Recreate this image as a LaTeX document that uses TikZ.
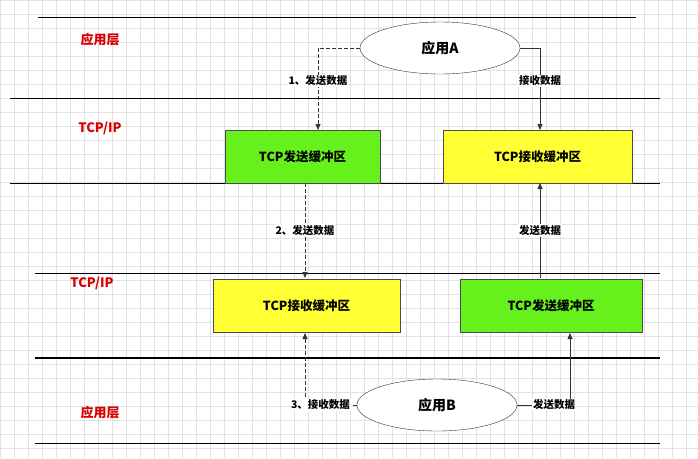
\documentclass[tikz,border=0pt]{standalone}
\usepackage{fontspec}
\setmainfont{Noto Sans CJK SC}
\usetikzlibrary{shapes.geometric,arrows.meta}
\definecolor{gridc}{RGB}{225,225,225}
\definecolor{gbox}{RGB}{102,240,28}
\definecolor{ybox}{RGB}{255,255,51}
\tikzset{x=1pt,y=-1pt,
 layer/.style={line width=1pt},
 buf/.style={draw=black!70,minimum height=53pt,font=\bfseries\fontsize{12.5}{14}\selectfont},
 app/.style={draw=black!80,ellipse,minimum width=160pt,minimum height=52pt,fill=white,font=\bfseries\fontsize{14}{16}\selectfont},
 lab/.style={text=red!85!black,font=\bfseries\fontsize{13}{15}\selectfont},
 conn/.style={draw=black!80,line width=0.8pt,-{Triangle[length=6pt,width=5pt]}},
 dconn/.style={conn,dash pattern=on 4pt off 2pt},
 txt/.style={fill=white,inner sep=1pt,font=\bfseries\fontsize{10.5}{12}\selectfont}}
\begin{document}
\begin{tikzpicture}
\useasboundingbox (0,0) rectangle (698,458);
\fill[white] (0,0) rectangle (698,458);
\draw[gridc,step=14pt] (0,0) grid (698,458);
\draw[layer] (38,17)--(636,17);
\draw[layer] (10,98)--(660,98);
\draw[layer] (10,183)--(660,183);
\draw[layer] (35,273)--(660,273);
\draw[line width=1.8pt] (35,358)--(660,358);
\draw[layer] (35,443)--(660,443);
\node[lab] (l1) at (100,40) {应用层};
\node[lab] (l2) at (100,128) {TCP/IP};
\node[lab] (l3) at (92,283) {TCP/IP};
\node[lab] (l4) at (100,413) {应用层};
\node[app] (A) at (440,48) {应用A};
\node[app] (B) at (437,405) {应用B};
\node[buf,fill=gbox,minimum width=155pt] (s1) at (302.5,156.5) {TCP发送缓冲区};
\node[buf,fill=ybox,minimum width=189pt] (r1) at (537.5,156.5) {TCP接收缓冲区};
\node[buf,fill=ybox,minimum width=187pt] (r2) at (306.5,305.5) {TCP接收缓冲区};
\node[buf,fill=gbox,minimum width=182pt] (s2) at (551,305.5) {TCP发送缓冲区};
\draw[dconn] (A.west) -| (318,130) node[pos=0.7,txt] {1、发送数据};
\draw[conn] (A.east) -| (540,130) node[pos=0.7,txt] {接收数据};
\draw[dconn] (305,183) -- (305,278) node[midway,txt] {2、发送数据};
\draw[conn] (540,278) -- (540,183) node[midway,txt] {发送数据};
\draw[dconn] (B.west) -| (305,333) node[pos=0.35,txt] {3、接收数据};
\draw[conn] (B.east) -| (570,333) node[pos=0.35,txt] {发送数据};
\end{tikzpicture}
\end{document}
